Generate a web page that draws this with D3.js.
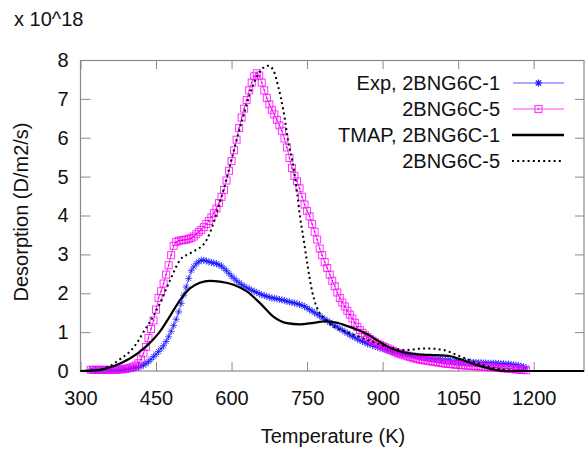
<!DOCTYPE html>
<html><head><meta charset="utf-8">
<script src="https://cdn.jsdelivr.net/npm/d3@7"></script>
<style>body{margin:0;background:#fff} svg{display:block} text{font-family:"Liberation Sans",Arial,sans-serif;fill:#111}</style>
</head><body><svg id="c" width="585" height="455"></svg>
<script>
// ---- data (values in units of 10^18 D/m2/s) ----
const expTemps = d3.range(320, 1186, 5); // measurement temperature grid (K)
const exp1 = [
0.02,0.02,0.02,0.02,0.02,0.02,0.02,0.02,0.02,0.02,
0.03,0.03,0.03,0.04,0.04,0.05,0.06,0.07,0.08,0.10,
0.12,0.15,0.19,0.24,0.30,0.37,0.43,0.50,0.57,0.65,
0.76,0.88,1.02,1.17,1.33,1.52,1.74,1.95,2.16,2.38,
2.58,2.68,2.76,2.81,2.85,2.85,2.83,2.81,2.79,2.78,
2.76,2.73,2.70,2.64,2.58,2.51,2.44,2.38,2.32,2.27,
2.22,2.18,2.14,2.11,2.08,2.05,2.02,1.99,1.96,1.94,
1.92,1.90,1.88,1.87,1.86,1.84,1.83,1.81,1.79,1.78,
1.76,1.75,1.73,1.71,1.69,1.66,1.62,1.58,1.54,1.50,
1.46,1.42,1.37,1.33,1.29,1.25,1.21,1.17,1.13,1.09,
1.05,1.01,0.97,0.93,0.89,0.86,0.82,0.79,0.76,0.73,
0.70,0.68,0.66,0.63,0.61,0.59,0.57,0.55,0.53,0.51,
0.50,0.48,0.47,0.45,0.44,0.43,0.42,0.41,0.40,0.39,
0.38,0.37,0.36,0.35,0.34,0.33,0.32,0.31,0.31,0.30,
0.29,0.28,0.28,0.27,0.26,0.26,0.25,0.25,0.24,0.24,
0.23,0.23,0.22,0.22,0.22,0.21,0.21,0.21,0.20,0.20,
0.20,0.20,0.19,0.19,0.19,0.18,0.18,0.17,0.16,0.15,
0.14,0.13,0.11,0.08];
const exp5 = [
0.03,0.03,0.03,0.03,0.03,0.03,0.03,0.03,0.03,0.03,
0.03,0.04,0.04,0.05,0.06,0.07,0.09,0.11,0.14,0.20,
0.30,0.45,0.62,0.85,1.08,1.30,1.58,1.88,2.05,2.25,
2.48,2.72,2.98,3.22,3.32,3.35,3.36,3.37,3.38,3.40,
3.42,3.46,3.52,3.58,3.63,3.70,3.78,3.86,3.95,4.06,
4.18,4.32,4.48,4.66,4.90,5.15,5.40,5.68,5.95,6.25,
6.52,6.75,6.97,7.22,7.42,7.58,7.66,7.60,7.42,7.22,
7.02,6.86,6.72,6.60,6.46,6.32,6.18,5.98,5.75,5.48,
5.22,5.02,4.88,4.70,4.48,4.28,4.12,3.98,3.78,3.58,
3.38,3.15,2.98,2.80,2.65,2.48,2.32,2.18,2.02,1.88,
1.76,1.66,1.55,1.45,1.35,1.24,1.13,1.05,0.98,0.92,
0.87,0.82,0.78,0.74,0.70,0.67,0.64,0.61,0.58,0.55,
0.52,0.49,0.46,0.44,0.42,0.40,0.38,0.36,0.34,0.32,
0.31,0.29,0.28,0.27,0.26,0.25,0.24,0.23,0.22,0.21,
0.20,0.19,0.18,0.18,0.17,0.16,0.16,0.15,0.15,0.14,
0.14,0.13,0.13,0.12,0.12,0.11,0.11,0.10,0.10,0.10,
0.09,0.09,0.08,0.08,0.07,0.07,0.06,0.06,0.05,0.04,
0.04,0.03,0.03,0.02];
const tmapTemps1 = [300,320,340,365,398,431,458,478,498,518,537,557,577,604,631,657,683,710,736,763,789,810,829,850,869,890,908,930,955,980,1001,1020,1035,1050,1068,1085,1101,1120,1134,1150,1300];
const tmap1 = [0.0,0.01,0.03,0.12,0.32,0.64,1.02,1.42,1.83,2.13,2.27,2.32,2.30,2.22,2.04,1.74,1.40,1.23,1.20,1.24,1.28,1.24,1.16,1.06,0.95,0.78,0.64,0.52,0.45,0.42,0.41,0.40,0.38,0.32,0.24,0.16,0.10,0.04,0.01,0.0,0.0];
const tmapTemps5 = [300,320,340,360,378,398,412,425,445,458,478,498,518,530,544,557,571,584,597,610,623,637,650,663,673,683,693,703,713,723,730,736,743,750,760,769,789,802,829,850,869,908,930,948,970,988,1005,1021,1035,1048,1065,1081,1097,1114,1130,1147,1165,1300];
const tmap5 = [0.0,0.01,0.04,0.14,0.30,0.50,0.72,1.00,1.42,1.75,2.34,2.86,3.03,3.12,3.25,3.55,4.10,4.66,5.30,5.94,6.54,7.15,7.57,7.80,7.85,7.74,7.30,6.70,5.86,5.25,4.60,3.97,3.40,2.80,2.05,1.65,1.30,1.15,1.00,0.90,0.80,0.63,0.56,0.54,0.57,0.58,0.57,0.54,0.48,0.41,0.32,0.24,0.16,0.10,0.05,0.02,0.0,0.0];
const xTicks = [300,450,600,750,900,1050,1200];
const yTicks = [0,1,2,3,4,5,6,7,8];
const legendLabels = ["Exp, 2BNG6C-1","2BNG6C-5","TMAP, 2BNG6C-1","2BNG6C-5"];

// ---- chart ----
const svg = d3.select("#c");
const x = d3.scaleLinear().domain([300,1300]).range([80.5,584]);
const y = d3.scaleLinear().domain([0,8]).range([371,60]);
const grey = "#8a8a8a";

function styleAxis(g){
  g.select(".domain").remove();
  g.selectAll(".tick line").attr("stroke",grey);
  g.selectAll(".tick text").attr("font-size",20).attr("fill","#111")
    .attr("font-family",'"Liberation Sans",Arial,sans-serif');
}
svg.append("g").attr("transform","translate(0,371)")
  .call(d3.axisBottom(x).tickValues(xTicks).tickFormat(d3.format("d")).tickSize(-9).tickPadding(20)).call(styleAxis);
svg.append("g").attr("transform","translate(0,60)")
  .call(d3.axisTop(x).tickValues(xTicks).tickSize(-9).tickFormat("")).call(styleAxis);
svg.append("g").attr("transform","translate(80.5,0)")
  .call(d3.axisLeft(y).tickValues(yTicks).tickFormat(d3.format("d")).tickSize(-10).tickPadding(12)).call(styleAxis);
svg.append("g").attr("transform","translate(584,0)")
  .call(d3.axisRight(y).tickValues(yTicks).tickSize(-9).tickFormat("")).call(styleAxis);

svg.append("rect").attr("x",80.5).attr("y",60.5).attr("width",584-80.5).attr("height",371-60.5)
  .attr("fill","none").attr("stroke",grey).attr("stroke-width",1.2);

const starPath = "M-3.5,0H3.5M0,-3.5V3.5M-2.6,-2.6L2.6,2.6M-2.6,2.6L2.6,-2.6";
const expLine = d3.line().x(d=>x(d[0])).y(d=>y(d[1]));
const e1 = expTemps.map((t,i)=>[t,exp1[i]]);
const e5 = expTemps.map((t,i)=>[t,exp5[i]]);

// Exp 2BNG6C-1 (blue asterisks)
svg.append("path").attr("d",expLine(e1)).attr("fill","none").attr("stroke","#6060ff").attr("stroke-width",1);
svg.append("g").selectAll("path").data(e1).join("path")
  .attr("transform",d=>`translate(${x(d[0])},${y(d[1])})`).attr("d",starPath)
  .attr("stroke","#1010ff").attr("stroke-opacity",0.7).attr("stroke-width",1);

// Exp 2BNG6C-5 (magenta squares)
svg.append("path").attr("d",expLine(e5)).attr("fill","none").attr("stroke","#ff30ff").attr("stroke-width",1);
const sq = svg.append("g").selectAll("g").data(e5).join("g")
  .attr("transform",d=>`translate(${x(d[0])},${y(d[1])})`);
sq.append("rect").attr("x",-3.5).attr("y",-3.5).attr("width",7).attr("height",7)
  .attr("fill","none").attr("stroke","#ff00ff").attr("stroke-opacity",0.8).attr("stroke-width",1);
sq.append("rect").attr("x",-0.7).attr("y",-0.7).attr("width",1.4).attr("height",1.4).attr("fill","#c000c0");

// TMAP curves
const smooth = d3.line().x(d=>x(d[0])).y(d=>y(d[1])).curve(d3.curveMonotoneX);
svg.append("path").attr("d",smooth(tmapTemps1.map((t,i)=>[t,tmap1[i]])))
  .attr("fill","none").attr("stroke","#000").attr("stroke-width",2.2);
svg.append("path").attr("d",smooth(tmapTemps5.map((t,i)=>[t,tmap5[i]])))
  .attr("fill","none").attr("stroke","#000").attr("stroke-width",2).attr("stroke-dasharray","2,3.2");

// Legend
const legY = [83,109,135,161];
const lg = svg.append("g");
legendLabels.forEach((lab,i)=>{
  lg.append("text").attr("x",500).attr("y",legY[i]+7).attr("text-anchor","end").attr("font-size",20).text(lab);
});
lg.append("line").attr("x1",513).attr("x2",564).attr("y1",legY[0]).attr("y2",legY[0]).attr("stroke","#9090ff").attr("stroke-width",1.5);
lg.append("path").attr("transform",`translate(538.5,${legY[0]})`).attr("d",starPath).attr("stroke","#2020ff").attr("stroke-width",1.2);
lg.append("line").attr("x1",513).attr("x2",564).attr("y1",legY[1]).attr("y2",legY[1]).attr("stroke","#ff40ff").attr("stroke-width",1.2);
lg.append("rect").attr("x",535).attr("y",legY[1]-3.5).attr("width",7).attr("height",7).attr("fill","none").attr("stroke","#ff40ff").attr("stroke-width",1.2);
lg.append("rect").attr("x",537.8).attr("y",legY[1]-0.7).attr("width",1.4).attr("height",1.4).attr("fill","#c000c0");
lg.append("line").attr("x1",512).attr("x2",564).attr("y1",legY[2]).attr("y2",legY[2]).attr("stroke","#000").attr("stroke-width",2.5);
lg.append("line").attr("x1",512).attr("x2",564).attr("y1",legY[3]).attr("y2",legY[3]).attr("stroke","#000").attr("stroke-width",2).attr("stroke-dasharray","2,3.2");

// Titles
svg.append("text").attr("x",14).attr("y",26).attr("font-size",20).text("x 10^18");
svg.append("text").attr("x",333).attr("y",443).attr("text-anchor","middle").attr("font-size",20).text("Temperature (K)");
svg.append("text").attr("transform","translate(28,212) rotate(-90)").attr("text-anchor","middle").attr("font-size",20).text("Desorption (D/m2/s)");
</script></body></html>
